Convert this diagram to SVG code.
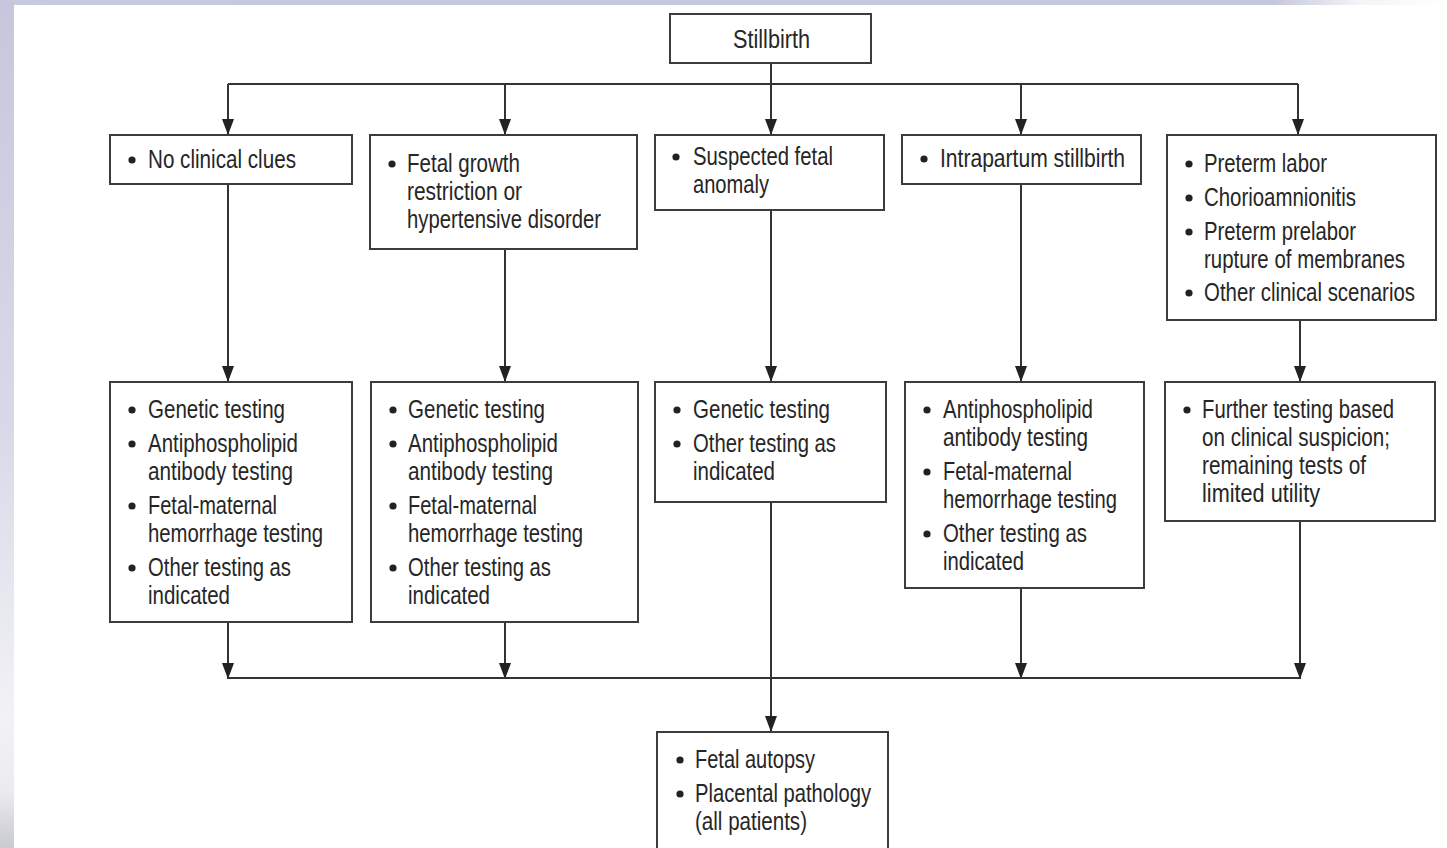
<svg xmlns="http://www.w3.org/2000/svg" width="1447" height="848" viewBox="0 0 1447 848">
<style>
.box{fill:#fff;stroke:#3c3c3c;stroke-width:2}
.t{font-family:"Liberation Sans",Arial,sans-serif;font-size:25px;fill:#262626}
.b{fill:#222}
.c{stroke:#333;stroke-width:2;fill:none}
</style>
<defs>
<linearGradient id="lg" x1="0" y1="0" x2="0" y2="1">
<stop offset="0" stop-color="#c6c7dd"/>
<stop offset="0.5" stop-color="#d8d9e8"/>
<stop offset="0.85" stop-color="#f2f2f6"/>
<stop offset="0.93" stop-color="#ececf0"/>
<stop offset="1" stop-color="#c9c9d2"/>
</linearGradient>
<linearGradient id="tg" x1="0" y1="0" x2="1" y2="0">
<stop offset="0" stop-color="#c8c9de"/>
<stop offset="0.88" stop-color="#c6c7dc"/>
<stop offset="0.94" stop-color="#f4f4f8"/>
<stop offset="1" stop-color="#ffffff"/>
</linearGradient>
<marker id="ah" viewBox="0 0 16 12" refX="16" refY="6" markerWidth="16" markerHeight="12" markerUnits="userSpaceOnUse" orient="auto">
<path d="M0,0 L16,6 L0,12 z" fill="#222"/>
</marker>
</defs>
<rect x="0" y="0" width="1447" height="848" fill="#fff"/>
<rect x="0" y="0" width="1447" height="5" fill="url(#tg)"/>
<rect x="0" y="0" width="14" height="848" fill="url(#lg)"/>

<g id="connectors">
<line class="c" x1="771" y1="63" x2="771" y2="135" marker-end="url(#ah)"/>
<line class="c" x1="228" y1="84" x2="1298" y2="84"/>
<line class="c" x1="228" y1="84" x2="228" y2="135" marker-end="url(#ah)"/>
<line class="c" x1="505" y1="84" x2="505" y2="135" marker-end="url(#ah)"/>
<line class="c" x1="1021" y1="84" x2="1021" y2="135" marker-end="url(#ah)"/>
<line class="c" x1="1298" y1="84" x2="1298" y2="135" marker-end="url(#ah)"/>
<line class="c" x1="228" y1="184" x2="228" y2="382" marker-end="url(#ah)"/>
<line class="c" x1="505" y1="249" x2="505" y2="382" marker-end="url(#ah)"/>
<line class="c" x1="771" y1="210" x2="771" y2="382" marker-end="url(#ah)"/>
<line class="c" x1="1021" y1="184" x2="1021" y2="382" marker-end="url(#ah)"/>
<line class="c" x1="1300" y1="320" x2="1300" y2="382" marker-end="url(#ah)"/>
<line class="c" x1="228" y1="622" x2="228" y2="679" marker-end="url(#ah)"/>
<line class="c" x1="505" y1="622" x2="505" y2="679" marker-end="url(#ah)"/>
<line class="c" x1="1021" y1="588" x2="1021" y2="679" marker-end="url(#ah)"/>
<line class="c" x1="1300" y1="521" x2="1300" y2="679" marker-end="url(#ah)"/>
<line class="c" x1="228" y1="678" x2="1300" y2="678"/>
<line class="c" x1="771" y1="502" x2="771" y2="732" marker-end="url(#ah)"/>
</g>

<g id="stillbirth">
<rect class="box" x="670" y="14" width="201" height="49"/>
<text class="t" x="733" y="48" textLength="77" lengthAdjust="spacingAndGlyphs">Stillbirth</text>
</g>

<g id="no-clues">
<rect class="box" x="110" y="135" width="242" height="49"/>
<circle class="b" cx="132" cy="160" r="3.6"/>
<text class="t" x="148" y="168" textLength="148" lengthAdjust="spacingAndGlyphs">No clinical clues</text>
</g>

<g id="fgr">
<rect class="box" x="370" y="135" width="267" height="114"/>
<circle class="b" cx="392" cy="164" r="3.6"/>
<text class="t" x="407" y="172" textLength="113" lengthAdjust="spacingAndGlyphs">Fetal growth</text>
<text class="t" x="407" y="200" textLength="115" lengthAdjust="spacingAndGlyphs">restriction or</text>
<text class="t" x="407" y="228" textLength="194" lengthAdjust="spacingAndGlyphs">hypertensive disorder</text>
</g>

<g id="anomaly">
<rect class="box" x="655" y="135" width="229" height="75"/>
<circle class="b" cx="676" cy="157" r="3.6"/>
<text class="t" x="693" y="165" textLength="140" lengthAdjust="spacingAndGlyphs">Suspected fetal</text>
<text class="t" x="693" y="193" textLength="76" lengthAdjust="spacingAndGlyphs">anomaly</text>
</g>

<g id="intrapartum">
<rect class="box" x="902" y="135" width="239" height="49"/>
<circle class="b" cx="924" cy="159" r="3.6"/>
<text class="t" x="940" y="167" textLength="185" lengthAdjust="spacingAndGlyphs">Intrapartum stillbirth</text>
</g>

<g id="preterm">
<rect class="box" x="1167" y="135" width="269" height="185"/>
<circle class="b" cx="1189" cy="164" r="3.6"/>
<text class="t" x="1204" y="172" textLength="123" lengthAdjust="spacingAndGlyphs">Preterm labor</text>
<circle class="b" cx="1189" cy="198" r="3.6"/>
<text class="t" x="1204" y="206" textLength="152" lengthAdjust="spacingAndGlyphs">Chorioamnionitis</text>
<circle class="b" cx="1189" cy="232" r="3.6"/>
<text class="t" x="1204" y="240" textLength="152" lengthAdjust="spacingAndGlyphs">Preterm prelabor</text>
<text class="t" x="1204" y="268" textLength="201" lengthAdjust="spacingAndGlyphs">rupture of membranes</text>
<circle class="b" cx="1189" cy="293" r="3.6"/>
<text class="t" x="1204" y="301" textLength="211" lengthAdjust="spacingAndGlyphs">Other clinical scenarios</text>
</g>

<g id="tests-no-clues">
<rect class="box" x="110" y="382" width="242" height="240"/>
<circle class="b" cx="132" cy="410" r="3.6"/>
<text class="t" x="148" y="418" textLength="137" lengthAdjust="spacingAndGlyphs">Genetic testing</text>
<circle class="b" cx="132" cy="444" r="3.6"/>
<text class="t" x="148" y="452" textLength="150" lengthAdjust="spacingAndGlyphs">Antiphospholipid</text>
<text class="t" x="148" y="480" textLength="145" lengthAdjust="spacingAndGlyphs">antibody testing</text>
<circle class="b" cx="132" cy="506" r="3.6"/>
<text class="t" x="148" y="514" textLength="129" lengthAdjust="spacingAndGlyphs">Fetal-maternal</text>
<text class="t" x="148" y="542" textLength="175" lengthAdjust="spacingAndGlyphs">hemorrhage testing</text>
<circle class="b" cx="132" cy="568" r="3.6"/>
<text class="t" x="148" y="576" textLength="143" lengthAdjust="spacingAndGlyphs">Other testing as</text>
<text class="t" x="148" y="604" textLength="82" lengthAdjust="spacingAndGlyphs">indicated</text>
</g>

<g id="tests-fgr">
<rect class="box" x="371" y="382" width="267" height="240"/>
<circle class="b" cx="393" cy="410" r="3.6"/>
<text class="t" x="408" y="418" textLength="137" lengthAdjust="spacingAndGlyphs">Genetic testing</text>
<circle class="b" cx="393" cy="444" r="3.6"/>
<text class="t" x="408" y="452" textLength="150" lengthAdjust="spacingAndGlyphs">Antiphospholipid</text>
<text class="t" x="408" y="480" textLength="145" lengthAdjust="spacingAndGlyphs">antibody testing</text>
<circle class="b" cx="393" cy="506" r="3.6"/>
<text class="t" x="408" y="514" textLength="129" lengthAdjust="spacingAndGlyphs">Fetal-maternal</text>
<text class="t" x="408" y="542" textLength="175" lengthAdjust="spacingAndGlyphs">hemorrhage testing</text>
<circle class="b" cx="393" cy="568" r="3.6"/>
<text class="t" x="408" y="576" textLength="143" lengthAdjust="spacingAndGlyphs">Other testing as</text>
<text class="t" x="408" y="604" textLength="82" lengthAdjust="spacingAndGlyphs">indicated</text>
</g>

<g id="tests-anomaly">
<rect class="box" x="655" y="382" width="231" height="120"/>
<circle class="b" cx="677" cy="410" r="3.6"/>
<text class="t" x="693" y="418" textLength="137" lengthAdjust="spacingAndGlyphs">Genetic testing</text>
<circle class="b" cx="677" cy="444" r="3.6"/>
<text class="t" x="693" y="452" textLength="143" lengthAdjust="spacingAndGlyphs">Other testing as</text>
<text class="t" x="693" y="480" textLength="82" lengthAdjust="spacingAndGlyphs">indicated</text>
</g>

<g id="tests-intrapartum">
<rect class="box" x="905" y="382" width="239" height="206"/>
<circle class="b" cx="927" cy="410" r="3.6"/>
<text class="t" x="943" y="418" textLength="150" lengthAdjust="spacingAndGlyphs">Antiphospholipid</text>
<text class="t" x="943" y="446" textLength="145" lengthAdjust="spacingAndGlyphs">antibody testing</text>
<circle class="b" cx="927" cy="472" r="3.6"/>
<text class="t" x="943" y="480" textLength="129" lengthAdjust="spacingAndGlyphs">Fetal-maternal</text>
<text class="t" x="943" y="508" textLength="174" lengthAdjust="spacingAndGlyphs">hemorrhage testing</text>
<circle class="b" cx="927" cy="534" r="3.6"/>
<text class="t" x="943" y="542" textLength="144" lengthAdjust="spacingAndGlyphs">Other testing as</text>
<text class="t" x="943" y="570" textLength="81" lengthAdjust="spacingAndGlyphs">indicated</text>
</g>

<g id="tests-preterm">
<rect class="box" x="1165" y="382" width="270" height="139"/>
<circle class="b" cx="1187" cy="410" r="3.6"/>
<text class="t" x="1202" y="418" textLength="192" lengthAdjust="spacingAndGlyphs">Further testing based</text>
<text class="t" x="1202" y="446" textLength="188" lengthAdjust="spacingAndGlyphs">on clinical suspicion;</text>
<text class="t" x="1202" y="474" textLength="164" lengthAdjust="spacingAndGlyphs">remaining tests of</text>
<text class="t" x="1202" y="502" textLength="118" lengthAdjust="spacingAndGlyphs">limited utility</text>
</g>

<g id="autopsy">
<rect class="box" x="657" y="732" width="231" height="130"/>
<circle class="b" cx="680" cy="760" r="3.6"/>
<text class="t" x="695" y="768" textLength="120" lengthAdjust="spacingAndGlyphs">Fetal autopsy</text>
<circle class="b" cx="680" cy="794" r="3.6"/>
<text class="t" x="695" y="802" textLength="176" lengthAdjust="spacingAndGlyphs">Placental pathology</text>
<text class="t" x="695" y="830" textLength="112" lengthAdjust="spacingAndGlyphs">(all patients)</text>
</g>
</svg>
